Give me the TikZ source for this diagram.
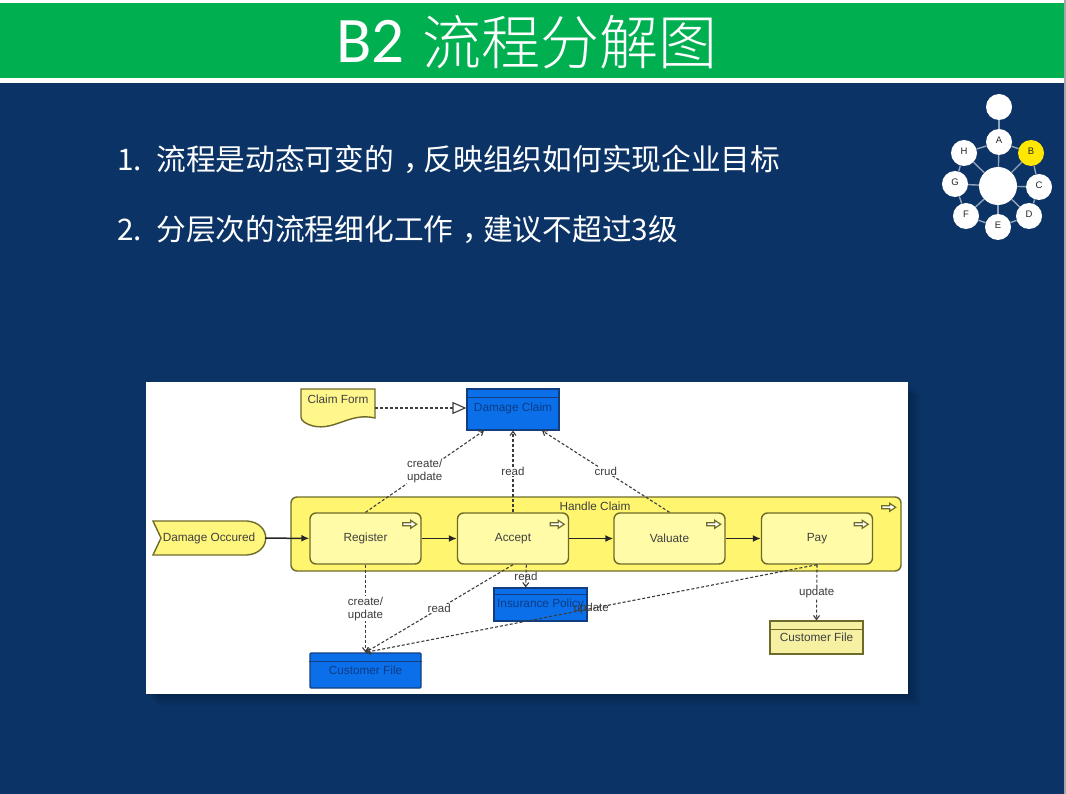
\documentclass[tikz,border=0pt]{standalone}
\usepackage{fontspec}
\setmainfont{Liberation Sans}
\newfontfamily\cjk{Noto Sans CJK SC}
\newfontfamily\cjklight{Noto Sans CJK SC Light}
\newfontfamily\latinlight{Carlito}
\usetikzlibrary{arrows.meta}
\definecolor{navy}{HTML}{0B3366}
\definecolor{bargreen}{HTML}{00AF50}
\definecolor{olive}{HTML}{6E6A2A}
\definecolor{groupyellow}{HTML}{FFF56E}
\definecolor{stepyellow}{HTML}{FFFBA6}
\definecolor{fileyellow}{HTML}{F6F0A2}
\definecolor{dataedge}{HTML}{123E80}
\definecolor{datablue}{HTML}{0A6FE8}
\definecolor{datatext}{HTML}{0A3C86}
\definecolor{linkgrey}{HTML}{3C3C3C}
\newcommand{\arrowicon}[1]{\draw[iconline] (#1) ++(0,2.5) -- ++(8,0) -- ++(0,-2.5) -- ++(6,4) -- ++(-6,4) -- ++(0,-2.5) -- ++(-8,0) -- cycle;}
\begin{document}
\begin{tikzpicture}
[x=1pt,y=-1pt,
 iconline/.style={draw=olive,fill=white,line width=1.2pt},
 shapeline/.style={draw=olive,line width=1.4pt},
 stepbox/.style={shapeline,fill=stepyellow,rounded corners=6pt,minimum width=111pt,minimum height=51pt,inner sep=0pt,font=\fontsize{11.8}{13}\selectfont,text=black!75},
 databox/.style={draw=dataedge,line width=1.2pt,fill=datablue,inner sep=0pt,text=datatext,font=\fontsize{11.8}{13}\selectfont},
 freetext/.style={inner sep=0pt,font=\fontsize{11.8}{13}\selectfont,text=black!75},
 linklabel/.style={fill=white,inner sep=.5pt,align=center,font=\fontsize{11.5}{13}\selectfont,text=linkgrey},
 overlabel/.style={linklabel,fill=none},
 flowline/.style={line width=1.5pt,black!85,-{Latex[length=8pt,width=7pt]}},
 datalink/.style={linkgrey,line width=1.1pt,dash pattern=on 3pt off 2pt,-{Straight Barb[length=4pt,width=6pt]}},
 logocircle/.style={circle,fill=white,minimum size=26pt,inner sep=0pt,text=black!85,font=\fontsize{9.5}{9.5}\selectfont}]
\useasboundingbox (0,0) rectangle (1066,794);
\fill[navy] (0,0) rectangle (1066,794);
\fill[black!35] (1064,0) rectangle (1066,794);
%% draw the title bar
\fill[white] (0,0) rectangle (1064,83);
\fill[bargreen] (0,3) rectangle (1064,78);
\node[text=white,inner sep=0pt,font=\fontsize{59}{62}\selectfont] (title) at (527,42) {\raisebox{2pt}{\latinlight\fontsize{65}{65}\selectfont B2}\hspace{.3em}\cjklight\fontsize{59}{62}\selectfont 流程分解图};
\node[text=white,anchor=west,inner sep=0pt,font=\fontsize{29.7}{32}\selectfont] (lineone) at (117,159) {\cjk 1.\hspace{.49em}流程是动态可变的\hspace{.3em}，\hspace{-.3em}反映组织如何实现企业目标};
\node[text=white,anchor=west,inner sep=0pt,font=\fontsize{29.7}{32}\selectfont] (linetwo) at (117,230) {\cjk 2.\hspace{.49em}分层次的流程细化工作\hspace{.3em}，\hspace{-.3em}建议不超过3级};
%% draw the small round map
\foreach \n/\x/\y/\t in {top/999/107/, la/999/142/A, lc/1039/187/C, ld/1029/216/D, le/998/227/E, lf/966/216/F, lg/955/184/G, lh/964/153/H}
{
  \node[logocircle] (\n) at (\x,\y) {\raisebox{4pt}{\t}};
}
\node[logocircle,fill=yellow!90!orange] (lb) at (1031,153) {\raisebox{4pt}{B}};
\node[logocircle,minimum size=38pt] (hub) at (998,186) {};
\foreach \a/\b in {top/la, la/hub, lb/hub, lc/hub, ld/hub, le/hub, lf/hub, lg/hub, lh/hub, la/lb, lb/lc, lc/ld, ld/le, le/lf, lf/lg, lg/lh, lh/la}
{
  \draw[white!55!navy,line width=1.4pt] (\a) -- (\b);
}
%% draw the white sheet and its shadow
\foreach \s in {2,4,6,8,10,12}
{
  \fill[black,opacity=.035] (146+\s,382+\s) rectangle (908+\s,694+\s);
}
\fill[white] (146,382) rectangle (908,694);
%% draw the shapes with no node of their own
\draw[shapeline,fill=groupyellow!80!white] (301,389) -- (375,389) -- (375,418) .. controls (350,412) and (335,431) .. (313,426) .. controls (306,424) and (301,421) .. (301,417) -- cycle;
\draw[shapeline,fill=groupyellow!90!white] (153,521) -- (247,521) .. controls (272,523) and (272,553) .. (247,555) -- (153,555) -- (161,538) -- cycle;
\node[freetext,minimum width=74pt,minimum height=38pt] (claimform) at (338,408) {};
\node[freetext] (claimformtext) at (338,399) {Claim Form};
\node[freetext,minimum width=112pt,minimum height=34pt] (occured) at (209,538) {Damage Occured};
%% draw the group with its four steps
\node[shapeline,fill=groupyellow,rounded corners=6pt,minimum width=610pt,minimum height=74pt,inner sep=0pt] (handle) at (596,534) {};
\node[freetext] (handletext) at (595,506) {Handle Claim};
\foreach \n/\x/\lab in {register/365.5/Register, accept/513/Accept, valuate/669.5/Valuate, pay/817/Pay}
{
  \node[stepbox] (\n) at (\x,538.5) {\lab};
  \arrowicon{[shift={(-19,8)}]\n.north east}
}
\arrowicon{[shift={(-20,7)}]handle.north east}
%% draw the data boxes
\node[databox,minimum width=92pt,minimum height=41pt,text depth=5pt] (damageclaim) at (513,409.5) {Damage Claim};
\node[databox,minimum width=93pt,minimum height=33pt] (insurance) at (540.5,604.5) {Insurance Policy};
\node[databox,rounded corners=1pt,minimum width=111pt,minimum height=35pt] (custblue) at (365.5,670.5) {Customer File};
\node[databox,draw=olive,fill=fileyellow,text=black!75,minimum width=93pt,minimum height=33pt] (custpale) at (816.5,637.5) {Customer File};
\foreach \n/\h in {damageclaim/9, insurance/7, custblue/9}
{
  \draw[dataedge,line width=1.2pt] ([yshift=-\h pt]\n.north west) -- ([yshift=-\h pt]\n.north east);
}
\draw[olive,line width=1.2pt] ([yshift=-9pt]custpale.north west) -- ([yshift=-9pt]custpale.north east);
%% draw the flow
\draw[flowline] (occured) -- (register);
\draw[flowline] (register) -- (accept);
\draw[flowline] (accept) -- (valuate);
\draw[flowline] (valuate) -- (pay);
%% draw the data links
\draw[linkgrey,line width=1.1pt,dash pattern=on 3pt off 2pt,-{Triangle[open,length=14pt,width=12pt,fill=white]}] (claimform) -- (claimform -| damageclaim.west);
\draw[datalink] (register.north) -- node[linklabel] {create/\\update} (damageclaim.216);
\draw[datalink] (accept.north) -- node[linklabel] {read} (damageclaim.south);
\draw[datalink] (valuate.north) -- node[linklabel] {crud} (damageclaim.324);
\draw[datalink] (register.south) -- node[linklabel] {create/\\update} (custblue.north);
\draw[datalink] (accept.south) -- node[linklabel] {read} (custblue.north);
\draw[datalink] (accept.-63) -- node[overlabel] {read} (insurance.131);
\draw[datalink] (pay.south) -- node[overlabel] {update} (custblue.north);
\draw[datalink] (pay.south) -- node[linklabel] {update} (custpale.north);
\end{tikzpicture}
\end{document}
